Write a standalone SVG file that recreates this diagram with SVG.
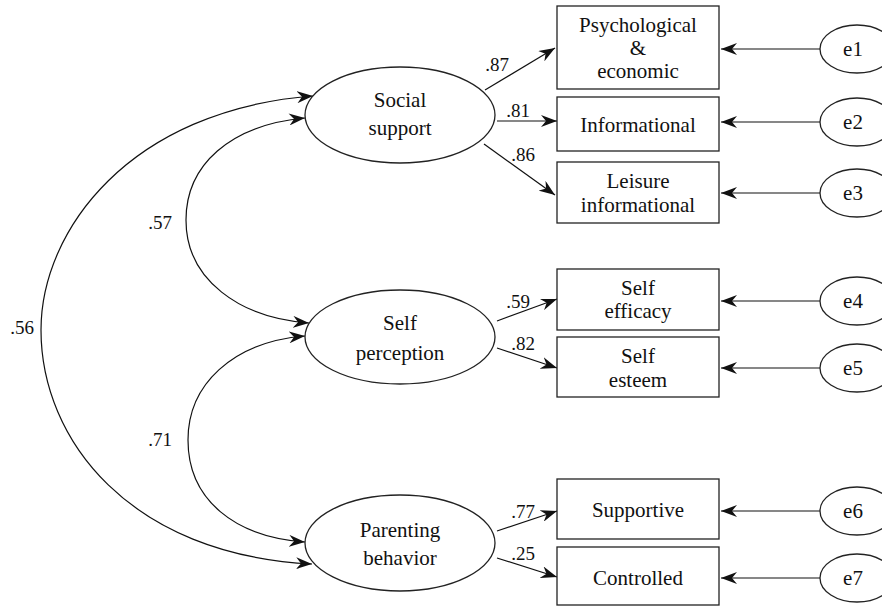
<svg xmlns="http://www.w3.org/2000/svg" width="882" height="607" viewBox="0 0 882 607" font-family="Liberation Serif, DejaVu Serif, serif">
<style>
text{fill:#111;text-anchor:middle}
.t{font-size:21px}
.n{font-size:19px}
.shape{fill:#fff;stroke:#222;stroke-width:1.3}
.c{fill:none;stroke:#111;stroke-width:1.2}
</style>
<defs>
<marker id="ah" viewBox="0 0 16 12" refX="16" refY="6" markerWidth="16" markerHeight="12" markerUnits="userSpaceOnUse" orient="auto-start-reverse">
<path d="M0,0 L16,6 L0,12 L5,6 z" fill="#111"/>
</marker>
</defs>
<rect width="882" height="607" fill="#fff"/>
<g id="connectors">
<path class="c" d="M313,96 C130,110 41,230 41,330 C41,440 130,555 312,564" marker-start="url(#ah)" marker-end="url(#ah)"/>
<path class="c" d="M305,118 C230,125 186,165 186,220 C186,280 240,318 309,323" marker-start="url(#ah)" marker-end="url(#ah)"/>
<path class="c" d="M305,336 C232,342 188,385 188,440 C188,500 235,537 305,542" marker-start="url(#ah)" marker-end="url(#ah)"/>
<line class="c" x1="485" y1="90" x2="555" y2="48" marker-end="url(#ah)"/>
<line class="c" x1="497" y1="121" x2="557" y2="121" marker-end="url(#ah)"/>
<line class="c" x1="484" y1="144" x2="555" y2="195" marker-end="url(#ah)"/>
<line class="c" x1="497" y1="321" x2="557" y2="299" marker-end="url(#ah)"/>
<line class="c" x1="497" y1="348" x2="557" y2="368" marker-end="url(#ah)"/>
<line class="c" x1="497" y1="531" x2="557" y2="511" marker-end="url(#ah)"/>
<line class="c" x1="497" y1="558" x2="557" y2="577" marker-end="url(#ah)"/>
<line class="c" x1="820" y1="49" x2="721" y2="49" marker-end="url(#ah)"/>
<line class="c" x1="820" y1="122" x2="721" y2="122" marker-end="url(#ah)"/>
<line class="c" x1="820" y1="193" x2="721" y2="193" marker-end="url(#ah)"/>
<line class="c" x1="820" y1="301" x2="721" y2="301" marker-end="url(#ah)"/>
<line class="c" x1="820" y1="368" x2="721" y2="368" marker-end="url(#ah)"/>
<line class="c" x1="820" y1="511" x2="721" y2="511" marker-end="url(#ah)"/>
<line class="c" x1="820" y1="578" x2="721" y2="578" marker-end="url(#ah)"/>
<text class="n" x="22" y="334">.56</text>
<text class="n" x="160" y="229">.57</text>
<text class="n" x="160" y="446">.71</text>
<text class="n" x="497" y="71">.87</text>
<text class="n" x="518" y="117">.81</text>
<text class="n" x="523" y="161">.86</text>
<text class="n" x="518" y="308">.59</text>
<text class="n" x="523" y="350">.82</text>
<text class="n" x="523" y="518">.77</text>
<text class="n" x="523" y="560">.25</text>
</g>
<g id="social-support">
<ellipse class="shape" cx="400" cy="115" rx="95" ry="48"/>
<text class="t" x="400" y="107">Social</text>
<text class="t" x="400" y="135">support</text>
</g>
<g id="self-perception">
<ellipse class="shape" cx="400" cy="337" rx="95" ry="47"/>
<text class="t" x="400" y="330">Self</text>
<text class="t" x="400" y="360">perception</text>
</g>
<g id="parenting-behavior">
<ellipse class="shape" cx="400" cy="543" rx="95" ry="48"/>
<text class="t" x="400" y="537">Parenting</text>
<text class="t" x="400" y="565">behavior</text>
</g>
<g id="psychological">
<rect class="shape" x="557" y="6" width="162" height="83"/>
<text class="t" x="638" y="32">Psychological</text>
<text class="t" x="638" y="55">&amp;</text>
<text class="t" x="638" y="78">economic</text>
</g>
<g id="informational">
<rect class="shape" x="557" y="97" width="162" height="54"/>
<text class="t" x="638" y="132">Informational</text>
</g>
<g id="leisure">
<rect class="shape" x="557" y="162" width="162" height="61"/>
<text class="t" x="638" y="188">Leisure</text>
<text class="t" x="638" y="212">informational</text>
</g>
<g id="self-efficacy">
<rect class="shape" x="557" y="269" width="162" height="61"/>
<text class="t" x="638" y="295">Self</text>
<text class="t" x="638" y="318">efficacy</text>
</g>
<g id="self-esteem">
<rect class="shape" x="557" y="337" width="162" height="60"/>
<text class="t" x="638" y="363">Self</text>
<text class="t" x="638" y="387">esteem</text>
</g>
<g id="supportive">
<rect class="shape" x="557" y="479" width="162" height="60"/>
<text class="t" x="638" y="517">Supportive</text>
</g>
<g id="controlled">
<rect class="shape" x="557" y="547" width="162" height="58"/>
<text class="t" x="638" y="585">Controlled</text>
</g>
<g id="e1"><ellipse class="shape" cx="857" cy="49" rx="37" ry="24"/><text class="t" x="853" y="56">e1</text></g>
<g id="e2"><ellipse class="shape" cx="857" cy="122" rx="37" ry="24"/><text class="t" x="853" y="129">e2</text></g>
<g id="e3"><ellipse class="shape" cx="857" cy="193" rx="37" ry="24"/><text class="t" x="853" y="200">e3</text></g>
<g id="e4"><ellipse class="shape" cx="857" cy="301" rx="37" ry="24"/><text class="t" x="853" y="308">e4</text></g>
<g id="e5"><ellipse class="shape" cx="857" cy="368" rx="37" ry="24"/><text class="t" x="853" y="375">e5</text></g>
<g id="e6"><ellipse class="shape" cx="857" cy="511" rx="37" ry="24"/><text class="t" x="853" y="518">e6</text></g>
<g id="e7"><ellipse class="shape" cx="857" cy="578" rx="37" ry="24"/><text class="t" x="853" y="585">e7</text></g>
</svg>
